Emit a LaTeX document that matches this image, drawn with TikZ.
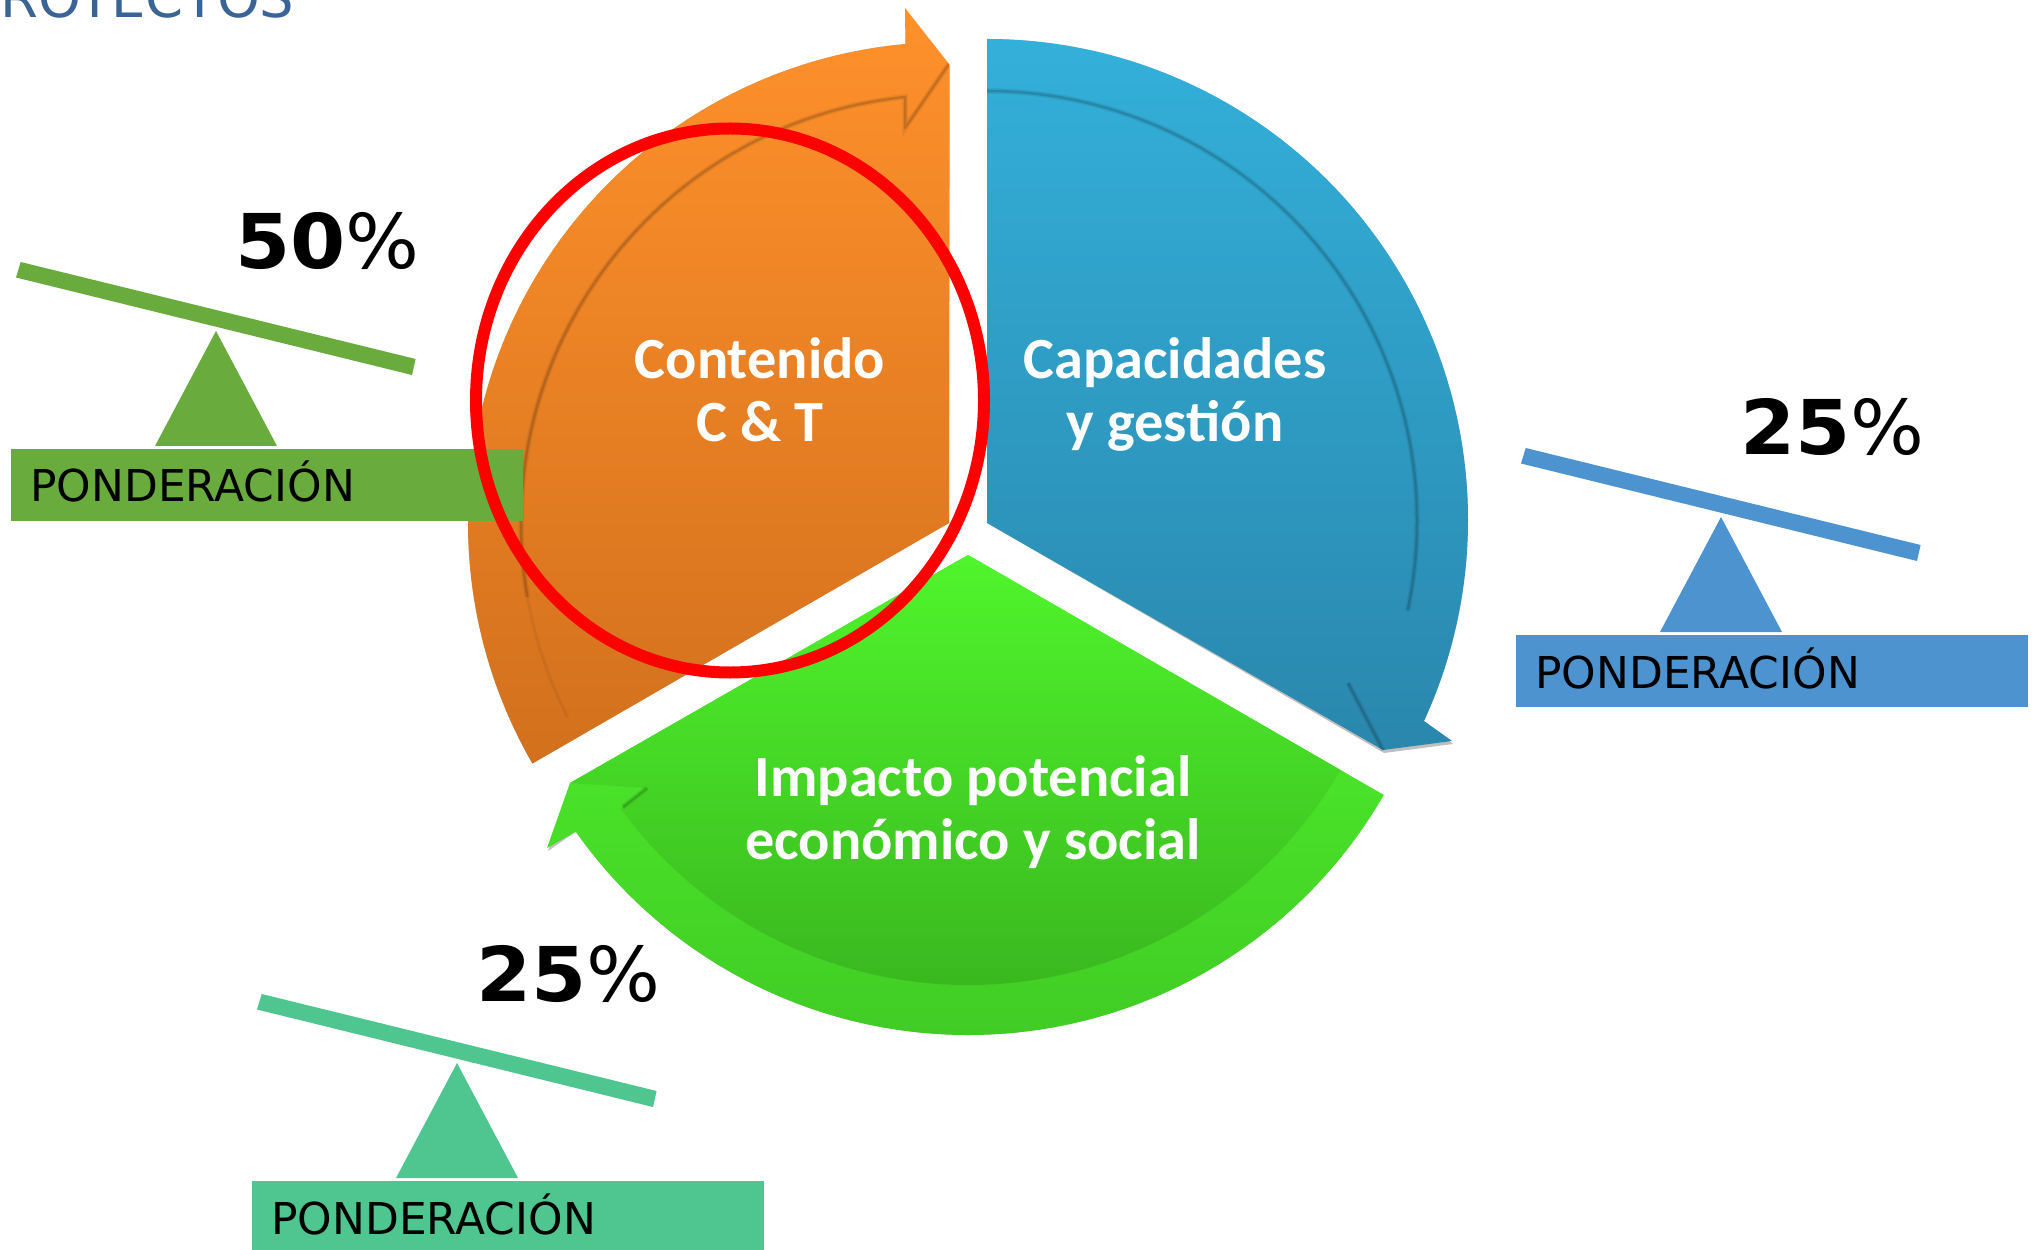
\documentclass[tikz,border=0pt]{standalone}
\usepackage{fontspec}
\setmainfont{DejaVu Sans}
\newfontfamily\carl{Carlito}
\usetikzlibrary{calc}
\definecolor{titleblue}{HTML}{3A6496}
\definecolor{balgreen}{HTML}{6AAB3D}
\definecolor{balblue}{HTML}{4D93D0}
\definecolor{balteal}{HTML}{4FC68F}
\tikzset{
  x=0.02cm,y=0.02cm,
  wedgeshadow/.style={fill=black,opacity=0.25,shift={(1,-3)}},
  crease/.style={draw=black,opacity=0.15,line width=0.05cm,line join=round,
    preaction={draw=black,opacity=0.07,line width=0.11cm}},
  softcrease/.style={draw=black,opacity=0.06,line width=0.06cm},
  segtext/.style={font=\carl\bfseries\fontsize{33.2}{37}\selectfont,text=white,inner sep=0pt,anchor=base},
  pondtext/.style={font=\fontsize{25}{28}\selectfont,text=black,inner sep=0pt,anchor=base west},
  pcttext/.style={font=\fontsize{43}{46}\selectfont,text=black,inner sep=0pt,anchor=base west},
  titletext/.style={font=\fontsize{31}{34}\selectfont,text=titleblue,inner sep=0pt,anchor=base west},
}
\definecolor{orange1}{HTML}{FF912B}
\definecolor{orange2}{HTML}{D2701D}
\definecolor{blue1}{HTML}{33B0DA}
\definecolor{blue2}{HTML}{2A87AD}
\definecolor{green1}{HTML}{50F52C}
\definecolor{green2}{HTML}{41CC25}
\definecolor{green3}{HTML}{3AB81F}
% balance: #1 name, #2 shift, #3 colour, #4 percent digits
\newcommand{\balance}[4]{%
  \begin{scope}[shift={#2}]
    \fill[#3] (20.7,987) -- (16,971.5) -- (412,874) -- (415.6,890) -- cycle;
    \fill[#3] (216,918) -- (155,803) -- (277,803) -- cycle;
    \fill[#3] (11,800) rectangle (523,728);
    \node[pondtext] (pond#1) at (30,747) {PONDERACIÓN};
    \node[pcttext] (pct#1) at (235,980) {\scalebox{1.05}[1]{\textbf{#4}}\scalebox{1.03}[1]{\%}};
  \end{scope}}
\begin{document}
\begin{tikzpicture}
\useasboundingbox (0,0) rectangle (2034,1249);
\fill[white] (0,0) rectangle (2034,1249);
\node[titletext] (title) at (0,1231) {ROYECTOS};

% centres of the three wedges
\coordinate (O) at (949,726);
\coordinate (B) at (987,726);
\coordinate (G) at (968,694);

% orange wedge
\def\orangepath{(O) -- ($(O)+(210:481)$) arc[start angle=210,end angle=95.2,radius=481] -- (905,1241) -- (949,1185) -- cycle}
\fill[wedgeshadow] \orangepath;
\shade[top color=orange1,bottom color=orange2] \orangepath;
\coordinate (otip) at (949,1185);
\coordinate (obarb) at (905,1121);
\draw[crease] (otip) -- (obarb) -- (905,1152) arc[start angle=95.9,end angle=190,radius=428];
\draw[softcrease] ($(O)+(190:428)$) arc[start angle=190,end angle=207,radius=428];

% blue wedge
\def\bluepath{(B) -- ($(B)+(90:484)$) arc[start angle=90,end angle=-24.7,radius=481] -- (1452,508) -- (1383,499) -- cycle}
\fill[wedgeshadow] \bluepath;
\shade[top color=blue1,bottom color=blue2] \bluepath;
\coordinate (btip) at (1383,499);
\coordinate (bbarb) at (1348,566);
\draw[crease] ($(B)+(90:432)$) arc[start angle=90,end angle=-12,radius=430];
\draw[crease] (bbarb) -- (btip);

% green wedge
\def\greenpath{(G) -- ($(G)+(-30:480)$) arc[start angle=-30,end angle=-144.8,radius=480] -- (547,401) -- (570,466) -- cycle}
\fill[wedgeshadow] \greenpath;
\shade[top color=green1,bottom color=green2] \greenpath;
\coordinate (gtip) at (570,466);
\coordinate (gbarb) at (647,461);
\shade[top color=green1,bottom color=green3]
  (G) -- ($(G)+(-30:430)$) arc[start angle=-30,end angle=-143.9,radius=430] -- (gbarb) -- (gtip) -- cycle;
\draw[crease] (gbarb) -- (623,442);

% wedge labels
\node[segtext] (c1) at (760,870) {Contenido};
\node[segtext] (c2) at (760,807) {C \& T};
\node[segtext] (b1) at (1175,870) {Capacidades};
\node[segtext] (b2) at (1175,807) {y gestión};
\node[segtext] (g1) at (973,453) {Impacto potencial};
\node[segtext] (g2) at (973,390) {económico y social};

% balances
\balance{a}{(0,0)}{balgreen}{50}
\balance{b}{(1505,-186)}{balblue}{25}
\balance{c}{(241,-732)}{balteal}{25}

% red ellipse
\draw[red,line width=0.24cm] (730,848.5) ellipse [x radius=254,y radius=272];
\end{tikzpicture}
\end{document}
